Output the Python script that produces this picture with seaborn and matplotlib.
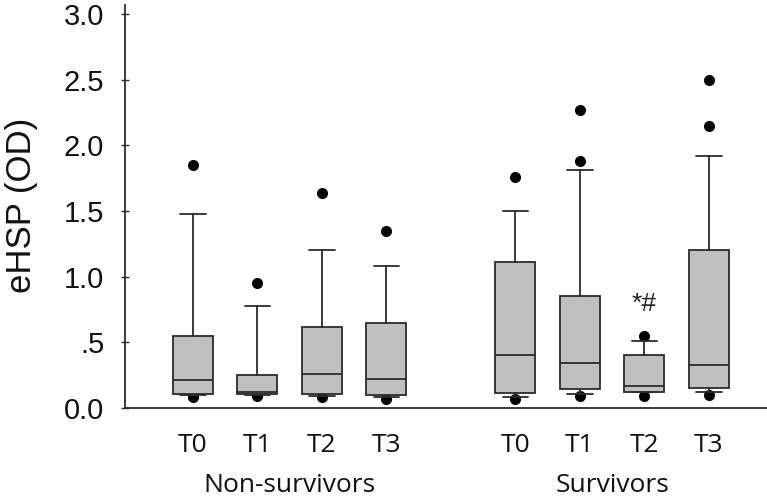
import matplotlib
matplotlib.use("Agg")
import matplotlib.pyplot as plt
import matplotlib.transforms as mtrans
import seaborn as sns
import pandas as pd

# ---- data ----
groups = ["Non-survivors", "Survivors"]
times = ["T0", "T1", "T2", "T3"]
positions = [0, 1, 2, 3, 5, 6, 7, 8]
whis_low = [0.10, 0.10, 0.09, 0.08, 0.085, 0.105, 0.12, 0.12]
q1 = [0.11, 0.105, 0.11, 0.10, 0.115, 0.145, 0.125, 0.155]
median = [0.21, 0.12, 0.26, 0.22, 0.40, 0.34, 0.17, 0.33]
q3 = [0.55, 0.25, 0.62, 0.65, 1.11, 0.85, 0.40, 1.20]
whis_high = [1.48, 0.78, 1.20, 1.08, 1.50, 1.81, 0.51, 1.92]
outliers = [[1.85, 0.08], [0.95, 0.09], [1.64, 0.08], [1.35, 0.07],
            [1.76, 0.07], [2.27, 1.88, 0.09], [0.55, 0.09], [2.50, 2.15, 0.10]]
annot_text = "*#"
annot_pos = (7, 0.79)
yticks = [0.0, 0.5, 1.0, 1.5, 2.0, 2.5, 3.0]
ytick_labels = ["0.0", ".5", "1.0", "1.5", "2.0", "2.5", "3.0"]

sns.set_style("ticks")
plt.rcParams["font.family"] = ["Liberation Sans", "DejaVu Sans"]

W, H = 767, 499
fig = plt.figure(figsize=(W / 100, H / 100), dpi=100)
ax = fig.add_axes([125 / W, 91 / H, (W - 125) / W, (408 - 5) / H])

edge = "#2b2b2b"
stats = []
for i in range(len(positions)):
    stats.append(dict(whislo=whis_low[i], q1=q1[i], med=median[i], q3=q3[i],
                      whishi=whis_high[i], fliers=[]))

# outlier dots via seaborn (drawn behind boxes)
rows = []
for p, vals in zip(positions, outliers):
    for v in vals:
        rows.append({"x": p, "y": v})
df_out = pd.DataFrame(rows)
sns.scatterplot(data=df_out, x="x", y="y", ax=ax, color="black", s=64,
                edgecolor="black", linewidth=0, zorder=1, legend=False)

ax.bxp(stats, positions=positions, widths=0.62, capwidths=0.4,
       showfliers=False, patch_artist=True,
       boxprops=dict(facecolor="#c0c0c0", edgecolor=edge, linewidth=1.3),
       medianprops=dict(color=edge, linewidth=1.3),
       whiskerprops=dict(color=edge, linewidth=1.3),
       capprops=dict(color=edge, linewidth=1.3), zorder=2)

ax.text(annot_pos[0], annot_pos[1], annot_text, ha="center", va="center",
        fontsize=19, color="#222222")

ax.set_xlim(-1.054, 8.9)
ax.set_ylim(0, 3.07)
ax.set_yticks(yticks)
ax.set_yticklabels(ytick_labels, fontsize=21, color="#111111")
ax.tick_params(axis="y", direction="inout", length=6, width=1, color=edge, pad=12)
ax.set_xticks(positions)
ax.set_xticklabels(times * 2, fontsize=19, family=["Open Sans", "DejaVu Sans"],
                   color="#111111")
ax.tick_params(axis="x", length=0, pad=18)
ax.set_xlabel("")
ax.set_ylabel("")
for s in ["top", "right"]:
    ax.spines[s].set_visible(False)
for s in ["left", "bottom"]:
    ax.spines[s].set_color(edge)
    ax.spines[s].set_linewidth(1.3)

fig.text(22 / W, 1 - 205 / H, "eHSP (OD)", rotation=90, ha="center", va="center",
         fontsize=25, color="#111111")

trans = mtrans.blended_transform_factory(ax.transData, fig.transFigure)
ax.text(1.5, 7 / H, groups[0], transform=trans, ha="center", va="baseline",
        fontsize=19, family=["Open Sans", "DejaVu Sans"], color="#111111")
ax.text(6.5, 7 / H, groups[1], transform=trans, ha="center", va="baseline",
        fontsize=19, family=["Open Sans", "DejaVu Sans"], color="#111111")

fig.savefig("out.png", dpi=100)
